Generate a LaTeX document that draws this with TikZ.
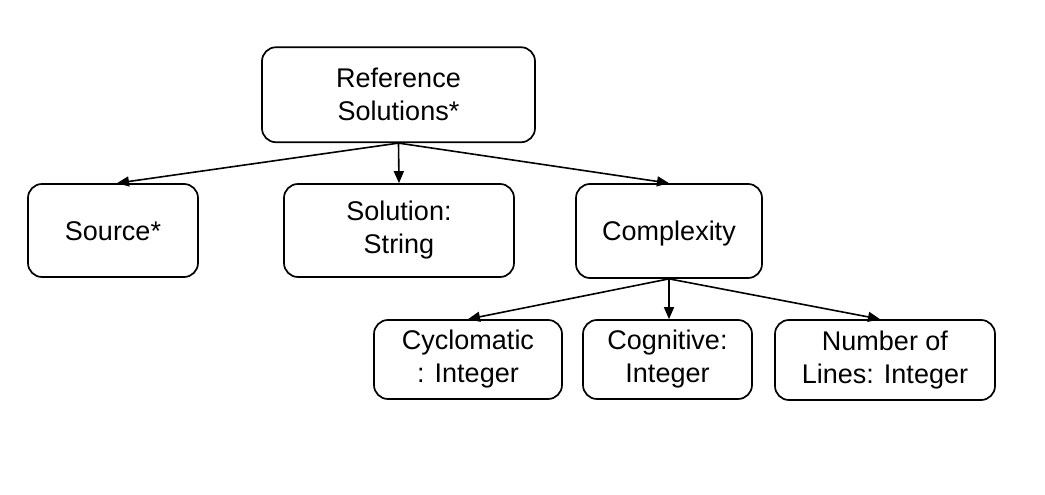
\documentclass[tikz,border=0pt]{standalone}
\usepackage{fontspec}
\setmainfont{Liberation Sans}
\usetikzlibrary{arrows.meta}
\begin{document}
\begin{tikzpicture}[x=1pt,y=-1pt,
  box/.style={draw=black,line width=1.7pt,rounded corners=14pt,align=center,
    inner sep=0pt,font=\fontsize{27}{33}\selectfont},
  oneline/.style={text height=19.4pt,text depth=0pt},
  conn/.style={line width=1.6pt,-{Triangle[length=12pt,width=10pt]}}]
\fill[white] (0,0) rectangle (1045,495);
\useasboundingbox (0,0) rectangle (1045,495);
\node[box,minimum width=273pt,minimum height=95pt] (ref) at (398.5,94.75) {Reference\\Solutions*};
\node[box,oneline,minimum width=170pt,minimum height=93pt] (src) at (113,230.5) {Source*};
\node[box,minimum width=230pt,minimum height=93pt] (sol) at (399,230.5) {Solution:\\String};
\node[box,oneline,minimum width=186pt,minimum height=94pt] (cx) at (669,231) {Complexity};
\node[box,minimum width=188pt,minimum height=79pt] (cyc) at (468,359.5) {Cyclomatic\\: Integer};
\node[box,minimum width=169pt,minimum height=79pt] (cog) at (667.5,359.5) {Cognitive:\\Integer};
\node[box,minimum width=220pt,minimum height=80pt] (nl) at (885,360) {Number of\\Lines: Integer};
\draw[conn] (ref.south) -- ([xshift=4pt]src.north);
\draw[conn] (ref.south) -- (sol.north);
\draw[conn] (ref.south) -- (cx.north);
\draw[conn] (cx.south) -- (cyc.north);
\draw[conn] (cx.south) -- (cog.north -| cx.south);
\draw[conn] (cx.south) -- ([xshift=-5pt]nl.north);
\end{tikzpicture}
\end{document}
